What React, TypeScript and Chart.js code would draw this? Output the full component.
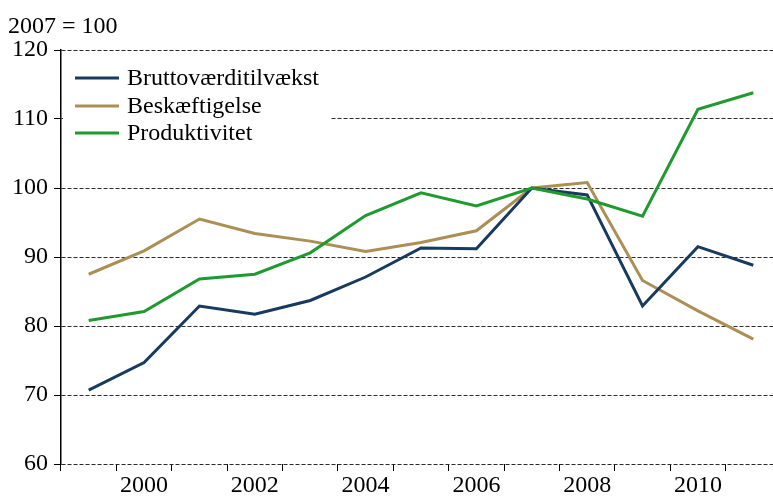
import React, { useEffect, useRef } from "react";
import { Chart, registerables } from "chart.js";

Chart.register(...registerables);

const years = ["1999","2000","2001","2002","2003","2004","2005","2006","2007","2008","2009","2010","2011"];
const bruttovaerditilvaekst = [70.7, 74.7, 82.9, 81.7, 83.7, 87.1, 91.3, 91.2, 100, 99.0, 82.9, 91.5, 88.8];
const beskaeftigelse = [87.5, 90.9, 95.5, 93.4, 92.3, 90.8, 92.1, 93.8, 100, 100.8, 86.6, 82.2, 78.1];
const produktivitet = [80.8, 82.1, 86.8, 87.5, 90.6, 96.0, 99.3, 97.4, 100, 98.4, 95.9, 111.4, 113.8];
const seriesNames = ["Bruttoværditilvækst", "Beskæftigelse", "Produktivitet"];
const seriesColors = ["#173a5e", "#ab8f55", "#1f9a2f"];
const yTitle = "2007 = 100";

const FONT = "'Liberation Serif', 'Times New Roman', serif";

const overlayPlugin = {
  id: "overlay",
  afterDraw(chart: any) {
    const ctx = chart.ctx;
    ctx.save();
    ctx.font = `24px ${FONT}`;
    ctx.fillStyle = "#000";
    ctx.textBaseline = "alphabetic";
    ctx.textAlign = "left";
    ctx.fillText(yTitle, 8, 33);
    ctx.restore();
  },
  beforeDatasetsDraw(chart: any) {
    const ctx = chart.ctx;
    ctx.save();
    ctx.fillStyle = "#fff";
    ctx.fillRect(63, 62, 267, 86);
    const rows = [78, 106, 133];
    ctx.font = `24px ${FONT}`;
    ctx.textBaseline = "middle";
    ctx.textAlign = "left";
    seriesNames.forEach((name, i) => {
      ctx.strokeStyle = seriesColors[i];
      ctx.lineWidth = 3;
      ctx.beginPath();
      ctx.moveTo(75, rows[i]);
      ctx.lineTo(119, rows[i]);
      ctx.stroke();
      ctx.fillStyle = "#000";
      ctx.fillText(name, 127, rows[i] + 1);
    });
    ctx.restore();
  },
};

export default function App() {
  const ref = useRef<HTMLCanvasElement>(null);
  useEffect(() => {
    if (!ref.current) return;
    const data = [bruttovaerditilvaekst, beskaeftigelse, produktivitet];
    const chart = new Chart(ref.current, {
      type: "line",
      data: {
        labels: years,
        datasets: data.map((d, i) => ({
          label: seriesNames[i],
          data: d,
          borderColor: seriesColors[i],
          backgroundColor: seriesColors[i],
          borderWidth: 3,
          pointRadius: 0,
          tension: 0,
          order: [1, 2, 0][i],
        })),
      },
      options: {
        animation: false,
        responsive: false,
        maintainAspectRatio: false,
        layout: { padding: { top: 50, right: 19, left: 0, bottom: 0 } },
        plugins: { legend: { display: false }, tooltip: { enabled: false }, title: { display: false } },
        scales: {
          x: {
            type: "category",
            offset: true,
            border: { display: false },
            grid: {
              offset: true,
              drawOnChartArea: false,
              drawTicks: true,
              tickLength: 7,
              tickColor: "#000",
              tickWidth: 1,
            },
            ticks: {
              autoSkip: false,
              maxRotation: 0,
              color: "#000",
              font: { family: FONT, size: 24 },
              padding: 0,
              callback: (v: any, i: number) => (parseInt(years[i]) % 2 === 0 ? years[i] : ""),
            },
            afterFit: (s: any) => { s.height = 33; },
          },
          y: {
            min: 60,
            max: 120,
            border: { display: true, color: "#000", width: 1.5, dash: [4, 2] },
            grid: {
              color: "#2a2a2a",
              lineWidth: 1,
              drawTicks: true,
              tickLength: 7,
              tickColor: "#000",
              tickWidth: 1,
              tickBorderDash: [],
            },
            ticks: {
              stepSize: 10,
              color: "#000",
              font: { family: FONT, size: 24 },
              padding: 6,
            },
            afterFit: (s: any) => { s.width = 61; },
          },
        },
      },
      plugins: [overlayPlugin],
    });
    return () => chart.destroy();
  }, []);
  return (
    <div style={{ position: "absolute", left: 0, top: 0, width: 773, height: 497, overflow: "hidden", background: "#fff" }}>
      <canvas ref={ref} width={800} height={497} style={{ display: "block", width: 800, height: 497 }} />
    </div>
  );
}
